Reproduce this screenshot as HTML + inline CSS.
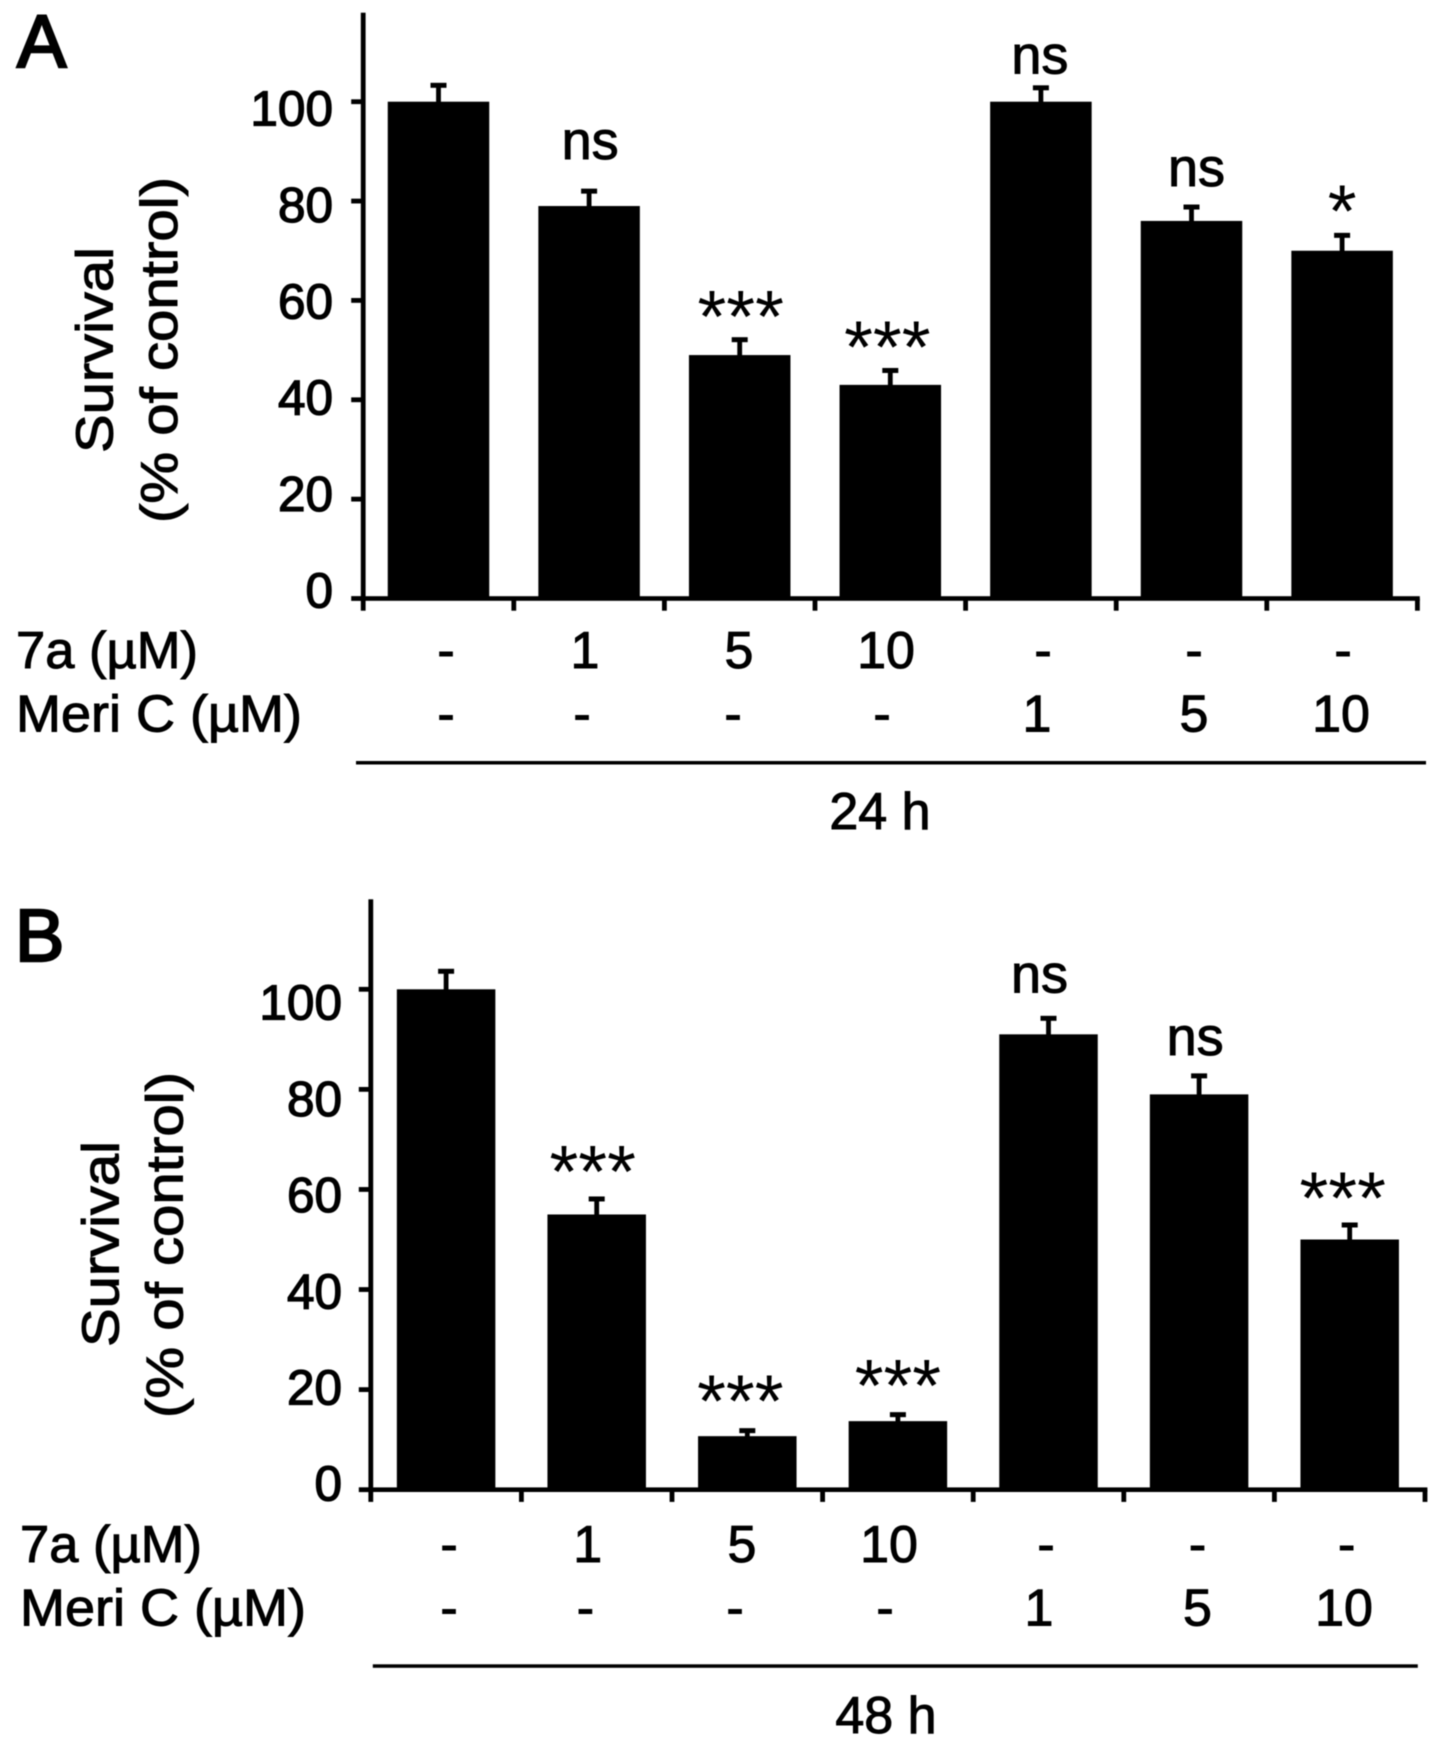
<!DOCTYPE html>
<html lang="en">
<head>
<meta charset="utf-8">
<title>Survival bar charts at 24 h and 48 h</title>
<style>
html,body{margin:0;padding:0;background:#fff;}
body{width:1441px;height:1747px;overflow:hidden;}
svg{display:block;filter:blur(0.6px);}
text{font-family:"Liberation Sans",Arial,sans-serif;fill:#000;stroke:#000;stroke-width:1px;}
.row{font-size:52px;}
.row-c{font-size:52px;text-anchor:middle;}
.letter{font-size:74px;stroke-width:2.4px;}
.star{stroke-width:0;}
</style>
</head>
<body>
<svg id="figure" xmlns="http://www.w3.org/2000/svg" width="1441" height="1747" viewBox="0 0 1441 1747">
  <rect x="0" y="0" width="1441" height="1747" fill="#fff"/>

  <g id="panel-a">
    <text class="letter" x="17" y="67">A</text>
    <text transform="translate(112.5 350) rotate(-90)" text-anchor="middle" font-size="52" textLength="206" lengthAdjust="spacingAndGlyphs">Survival</text>
    <text transform="translate(176.8 350) rotate(-90)" text-anchor="middle" font-size="52" textLength="346" lengthAdjust="spacingAndGlyphs">(% of control)</text>
    <g>
      <text class="row" x="16" y="668" textLength="182" lengthAdjust="spacingAndGlyphs">7a (µM)</text>
      <text class="row-c" x="446" y="668">-</text>
      <text class="row-c" x="585" y="668">1</text>
      <text class="row-c" x="739" y="668">5</text>
      <text class="row-c" x="886" y="668">10</text>
      <text class="row-c" x="1043" y="668">-</text>
      <text class="row-c" x="1194" y="668">-</text>
      <text class="row-c" x="1343" y="668">-</text>
    </g>
    <g>
      <text class="row" x="16" y="731.7" textLength="286" lengthAdjust="spacingAndGlyphs">Meri C (µM)</text>
      <text class="row-c" x="446" y="731.7">-</text>
      <text class="row-c" x="582" y="731.7">-</text>
      <text class="row-c" x="733" y="731.7">-</text>
      <text class="row-c" x="882" y="731.7">-</text>
      <text class="row-c" x="1037" y="731.7">1</text>
      <text class="row-c" x="1194" y="731.7">5</text>
      <text class="row-c" x="1341" y="731.7">10</text>
    </g>
    <rect x="356" y="761" width="1070" height="3.5" fill="#000"/>
    <text class="row-c" x="880" y="829">24 h</text>
  </g>

  <g id="panel-b">
    <text class="letter" x="15" y="961">B</text>
    <text transform="translate(118.5 1244) rotate(-90)" text-anchor="middle" font-size="52" textLength="206" lengthAdjust="spacingAndGlyphs">Survival</text>
    <text transform="translate(182.7 1245) rotate(-90)" text-anchor="middle" font-size="52" textLength="346" lengthAdjust="spacingAndGlyphs">(% of control)</text>
    <g>
      <text class="row" x="20" y="1562" textLength="182" lengthAdjust="spacingAndGlyphs">7a (µM)</text>
      <text class="row-c" x="449" y="1562">-</text>
      <text class="row-c" x="587.7" y="1562">1</text>
      <text class="row-c" x="742" y="1562">5</text>
      <text class="row-c" x="889" y="1562">10</text>
      <text class="row-c" x="1046" y="1562">-</text>
      <text class="row-c" x="1197.5" y="1562">-</text>
      <text class="row-c" x="1346.7" y="1562">-</text>
    </g>
    <g>
      <text class="row" x="20" y="1625.3" textLength="286" lengthAdjust="spacingAndGlyphs">Meri C (µM)</text>
      <text class="row-c" x="449" y="1625.3">-</text>
      <text class="row-c" x="585.4" y="1625.3">-</text>
      <text class="row-c" x="735" y="1625.3">-</text>
      <text class="row-c" x="885" y="1625.3">-</text>
      <text class="row-c" x="1039" y="1625.3">1</text>
      <text class="row-c" x="1197.5" y="1625.3">5</text>
      <text class="row-c" x="1344" y="1625.3">10</text>
    </g>
    <rect x="372.8" y="1664.3" width="1045" height="3.5" fill="#000"/>
    <text class="row-c" x="886" y="1733">48 h</text>
  </g>
</svg>

<script>
// Chart data
const categories = ['7a-0', '7a-1', '7a-5', '7a-10', 'meri-c-1', 'meri-c-5', 'meri-c-10'];
const yTickValues = [0, 20, 40, 60, 80, 100];
const yTickLabels = ['0', '20', '40', '60', '80', '100'];

const survival24h = [100, 79, 49, 43, 100, 76, 70];
const errorTop24h = [103.7, 82.4, 52.5, 46.3, 103.2, 79.2, 73.5];
const significance24h = ['', 'ns', '***', '***', 'ns', 'ns', '*'];

const survival48h = [100, 55, 10.7, 13.7, 91, 79, 50];
const errorTop48h = [104, 58.5, 12.2, 15.4, 94.6, 83.1, 53.3];
const significance48h = ['', '***', '***', '***', 'ns', 'ns', '***'];

// Layout of each panel (geometry only)
const layoutA = {
  id: 'panel-a', key: 'panel-a', axisX: 363.2, axisTop: 12.7, y0: 598.5, unit: 4.968, step: 150.6,
  barWidth: 101.5, labelRight: 333, labelBase: 607.5, labelUnit: 4.82,
  sigDx: [0, 1, 1, -3, -1, 5, 0], sigGap: [0, 30, -4.5, -3.9, 12.3, 19, -3]
};
const layoutB = {
  id: 'panel-b', key: 'panel-b', axisX: 370.8, axisTop: 899.3, y0: 1489.7, unit: 5.004, step: 150.6,
  barWidth: 98.5, labelRight: 342, labelBase: 1500.7, labelUnit: 4.81,
  sigDx: [0, -4, -7, 0, -9, -4, -7], sigGap: [0, 0, 2, 1.7, 24, 19, -0.7]
};

const SVG_NS = 'http://www.w3.org/2000/svg';

function makeRect(parent, x, y, w, h) {
  const el = document.createElementNS(SVG_NS, 'rect');
  el.setAttribute('x', x);
  el.setAttribute('y', y);
  el.setAttribute('width', w);
  el.setAttribute('height', h);
  el.setAttribute('fill', '#000');
  parent.appendChild(el);
  return el;
}

function makeText(parent, x, y, size, anchor, content) {
  const el = document.createElementNS(SVG_NS, 'text');
  el.setAttribute('x', x);
  el.setAttribute('y', y);
  el.setAttribute('font-size', size);
  el.setAttribute('text-anchor', anchor);
  el.textContent = content;
  parent.appendChild(el);
  return el;
}

function renderPanel(layout, values, errorTops, significance) {
  const root = document.getElementById(layout.id);
  const xCenter = function (i) { return layout.axisX + layout.step * (i + 0.5); };
  const yScale = function (v) { return layout.y0 - v * layout.unit; };
  const labelY = function (v) { return layout.labelBase - v * layout.labelUnit; };
  const xEnd = layout.axisX + layout.step * categories.length;

  values.forEach(function (v, i) {
    const cx = xCenter(i);
    const bar = makeRect(root, cx - layout.barWidth / 2, yScale(v), layout.barWidth, layout.y0 - yScale(v) + 1);
    
    

    const stem = makeRect(root, cx - 2.4, yScale(errorTops[i]), 4.8, yScale(v) - yScale(errorTops[i]) + 1);
    
    

    const cap = makeRect(root, cx - 8, yScale(errorTops[i]) - 0.5, 16, 5);
    
    

    if (significance[i]) {
      const isStar = significance[i].charAt(0) === '*';
      const baseline = yScale(errorTops[i]) - layout.sigGap[i];
      const sig = makeText(root, cx + layout.sigDx[i], baseline, isStar ? 74 : 54, 'middle', significance[i]);
      if (isStar) sig.setAttribute('class', 'star');
      
      
    }
  });

  const yAxis = makeRect(root, layout.axisX - 2.4, layout.axisTop, 4.8, layout.y0 - layout.axisTop + 2.5);
  
  

  const xAxis = makeRect(root, layout.axisX - 2.4, layout.y0 - 2.3, xEnd - layout.axisX + 4.8, 4.6);
  
  

  yTickValues.forEach(function (v, i) {
    const tick = makeRect(root, layout.axisX - 12, yScale(v) - 2.4, 12, 4.8);
    
    

    const label = makeText(root, layout.labelRight, labelY(v), 49.5, 'end', yTickLabels[i]);
    label.setAttribute('stroke-width', '1.3');
    label.style.strokeWidth = '1.3px';
    
    
  });

  for (let i = 0; i <= categories.length; i++) {
    const tick = makeRect(root, layout.axisX + layout.step * i - 2.4, layout.y0, 4.8, 12.2);
    
    
  }
}

renderPanel(layoutA, survival24h, errorTop24h, significance24h);
renderPanel(layoutB, survival48h, errorTop48h, significance48h);
</script>
</body>
</html>
